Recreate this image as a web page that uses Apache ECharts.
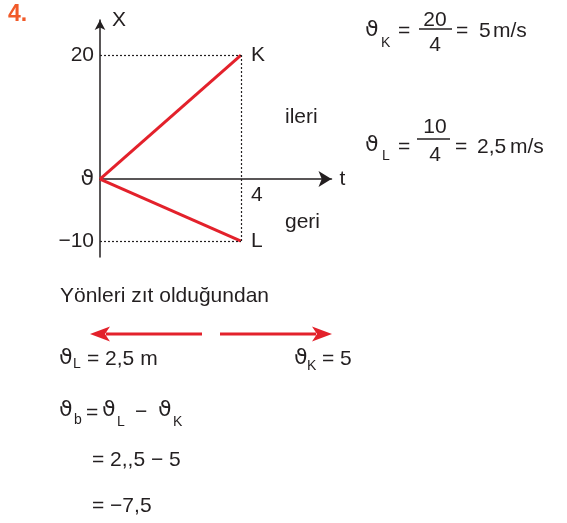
<!DOCTYPE html>
<html>
<head>
<meta charset="utf-8">
<title>Konum-zaman grafiği</title>
<script src="https://cdn.jsdelivr.net/npm/echarts@6/dist/echarts.min.js"></script>
<style>
  html, body { margin: 0; padding: 0; background: #fff; }
  #chart { width: 567px; height: 523px; }
</style>
</head>
<body>
<div id="chart"></div>
<script>
// ── veriler ────────────────────────────────────────────────
const times = [0, 4]
const posK = [0, 20]
const posL = [0, -10]
const yTickValues = [20, 0, -10]
const yTickLabels = ['20', '{th|ϑ}', '−10']
const xTickValues = [4]
const xTickLabels = ['4']

const INK = '#231f20'
const RED = '#e3212b'
const FONT = '"Liberation Sans", Arial, sans-serif'
const THETA_FONT = '"DejaVu Sans", sans-serif'
const FS = 21
const TH_FS = 22

// ── yardımcılar ────────────────────────────────────────────
function txt(x, y, s, size, family) {
  return {
    type: 'text', x, y, silent: true,
    style: {
      text: s, fill: INK, fontSize: size || FS, fontFamily: family || FONT,
      align: 'left', verticalAlign: 'middle',
    },
  }
}
function th(x, y) { return txt(x, y, 'ϑ', TH_FS, THETA_FONT) }
function ctxt(x, y, s, size) {
  const t = txt(x, y, s, size)
  t.style.align = 'center'
  return t
}
function bar(x1, x2, y) {
  return { type: 'line', silent: true, shape: { x1, y1: y, x2, y2: y }, style: { stroke: INK, lineWidth: 1.5 } }
}
function arrow(xTail, xTip, y) {
  const d = xTip > xTail ? 1 : -1
  const back = xTip - d * 20
  return [
    { type: 'line', silent: true, shape: { x1: xTail, y1: y, x2: back + d * 4, y2: y }, style: { stroke: RED, lineWidth: 3 } },
    { type: 'polygon', silent: true, shape: { points: [[xTip, y], [back, y - 7.5], [back + d * 5, y], [back, y + 7.5]] }, style: { fill: RED } },
  ]
}

const title = txt(8, 15, '4.', 23)
title.style.fill = '#f15a29'
title.style.fontWeight = 'bold'

const graphic = [
  title,
  // ileri / geri
  txt(285, 117, 'ileri'),
  txt(285, 222, 'geri'),
  // ϑK = 20/4 = 5 m/s
  th(365, 30), txt(381, 43, 'K', 14), txt(398, 31, '='),
  ctxt(435, 20, '20'), bar(419, 452, 29), ctxt(435, 45, '4'),
  txt(456, 31, '='), txt(479, 31, '5'), txt(493, 31, 'm/s'),
  // ϑL = 10/4 = 2,5 m/s
  th(365, 145), txt(382, 156, 'L', 14), txt(398, 147, '='),
  ctxt(435, 127, '10'), bar(417, 450, 139), ctxt(435, 155, '4'),
  txt(455, 147, '='), txt(477, 147, '2,5'), txt(510, 147, 'm/s'),
  // alt kısım
  txt(60, 296, 'Yönleri zıt olduğundan'),
  ...arrow(202, 90, 334),
  ...arrow(220, 332, 334),
  th(59, 358), txt(73, 364, 'L', 14), txt(87, 359, '= 2,5 m'),
  th(294, 358), txt(307, 366, 'K', 14), txt(322, 359, '= 5'),
  th(59, 410), txt(74, 420, 'b', 14), txt(86, 413, '='),
  th(102, 410), txt(117, 422, 'L', 14), txt(135, 412, '−'),
  th(158, 410), txt(173, 422, 'K', 14),
  txt(92, 460, '= 2,,5 − 5'),
  txt(92, 506, '= −7,5'),
]

// ── grafik ─────────────────────────────────────────────────
const chart = echarts.init(document.getElementById('chart'), null, { renderer: 'canvas' })

const lineBase = {
  type: 'line',
  symbol: 'none',
  lineStyle: { color: RED, width: 3 },
  itemStyle: { color: RED },
  silent: true,
}
const endLbl = name => ({ show: true, formatter: name, distance: 10, color: INK, fontSize: FS, fontFamily: FONT })

chart.setOption({
  backgroundColor: '#fff',
  animation: false,
  grid: { left: 100, top: 20, width: 231.5, height: 237, outerBoundsMode: 'none' },
  xAxis: {
    type: 'value',
    min: 0, max: 6.567,
    offset: -78,
    name: 't',
    nameGap: 8,
    nameTextStyle: { color: INK, fontSize: FS, fontFamily: FONT },
    axisLine: { onZero: false, symbol: ['none', 'arrow'], symbolSize: [12, 13], lineStyle: { color: INK, width: 1.5 } },
    axisTick: { show: false },
    splitLine: { show: false },
    axisLabel: {
      customValues: xTickValues,
      formatter: v => xTickLabels[xTickValues.indexOf(v)],
      align: 'left', padding: [0, 0, 0, 10], margin: 6,
      color: INK, fontSize: FS, fontFamily: FONT,
    },
  },
  yAxis: {
    type: 'value',
    min: -12.58, max: 25.65,
    name: 'X',
    nameGap: 0,
    nameTextStyle: { color: INK, fontSize: FS, fontFamily: FONT, align: 'left', verticalAlign: 'middle', padding: [0, 0, 0, 12] },
    axisLine: { symbol: ['none', 'arrow'], symbolSize: [8, 10], lineStyle: { color: INK, width: 1.5 } },
    axisTick: { show: false },
    splitLine: { show: false },
    axisLabel: {
      customValues: yTickValues,
      formatter: v => yTickLabels[yTickValues.indexOf(v)],
      margin: 6,
      color: INK, fontSize: FS, fontFamily: FONT,
      rich: { th: { fontSize: TH_FS, fontFamily: THETA_FONT, color: INK } },
    },
  },
  series: [
    Object.assign({}, lineBase, {
      name: 'K',
      data: times.map((t, i) => [t, posK[i]]),
      endLabel: endLbl('K'),
      markLine: {
        silent: true,
        symbol: 'none',
        label: { show: false },
        lineStyle: { color: INK, type: [2, 2], width: 1.2 },
        data: [
          [{ coord: [0, posK[1]] }, { coord: [times[1], posK[1]] }],
          [{ coord: [times[1], posK[1]] }, { coord: [times[1], posL[1]] }],
          [{ coord: [0, posL[1]] }, { coord: [times[1], posL[1]] }],
        ],
      },
    }),
    Object.assign({}, lineBase, {
      name: 'L',
      data: times.map((t, i) => [t, posL[i]]),
      endLabel: endLbl('L'),
    }),
  ],
  graphic,
})
</script>
</body>
</html>
